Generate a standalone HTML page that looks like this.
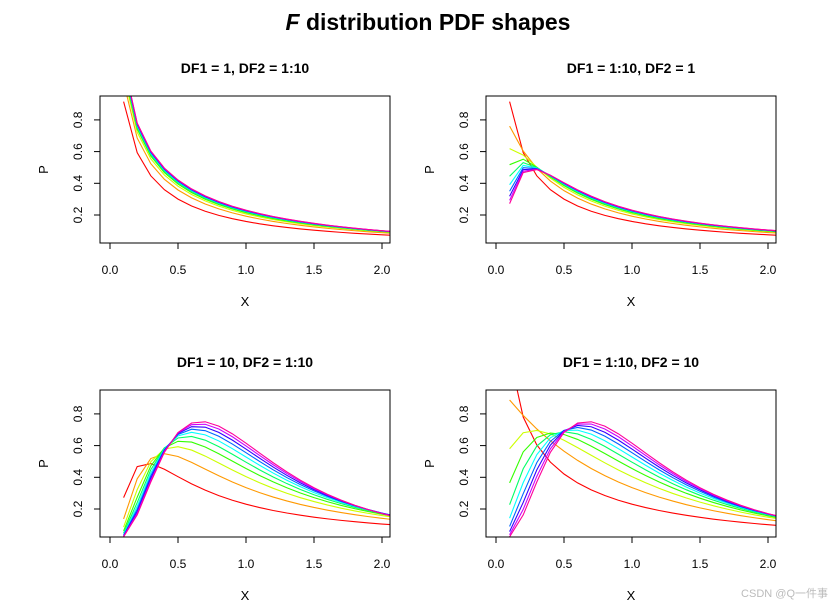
<!DOCTYPE html>
<html><head><meta charset="utf-8"><style>
body{margin:0;background:#fff;}
svg{display:block;font-family:"Liberation Sans",Arial,sans-serif;}
</style></head><body>
<svg id="chart" width="840" height="608" viewBox="0 0 840 608">
<text x="428" y="30" text-anchor="middle" font-size="23" font-weight="bold"><tspan font-style="italic">F</tspan> distribution PDF shapes</text>
</svg>
<script>
// Chart data: distribution parameters per panel and sampling grid
const xGrid = [0.1,0.2,0.3,0.4,0.5,0.6,0.7,0.8,0.9,1.0,1.1,1.2,1.3,1.4,1.5,1.6,1.7,1.8,1.9,2.0,2.1,2.2];
const panelTitles = ["DF1 = 1, DF2 = 1:10","DF1 = 1:10, DF2 = 1","DF1 = 10, DF2 = 1:10","DF1 = 1:10, DF2 = 10"];
const panelDf1 = [[1,1,1,1,1,1,1,1,1,1],[1,2,3,4,5,6,7,8,9,10],[10,10,10,10,10,10,10,10,10,10],[1,2,3,4,5,6,7,8,9,10]];
const panelDf2 = [[1,2,3,4,5,6,7,8,9,10],[1,1,1,1,1,1,1,1,1,1],[1,2,3,4,5,6,7,8,9,10],[10,10,10,10,10,10,10,10,10,10]];
const seriesColors = ["#FF0000","#FF9900","#CCFF00","#33FF00","#00FF66","#00FFFF","#0066FF","#3300FF","#CC00FF","#FF0099"];
const xTicks = [0.0,0.5,1.0,1.5,2.0];
const xTickLabels = ["0.0","0.5","1.0","1.5","2.0"];
const yTicks = [0.2,0.4,0.6,0.8];
const yTickLabels = ["0.2","0.4","0.6","0.8"];

const NS="http://www.w3.org/2000/svg";
const svg=document.getElementById('chart');
function mk(tag,attrs,parent){const e=document.createElementNS(NS,tag);for(const k in attrs)e.setAttribute(k,attrs[k]);(parent||svg).appendChild(e);return e;}
function lgamma(z){const g=7,c=[0.99999999999980993,676.5203681218851,-1259.1392167224028,771.32342877765313,-176.61502916214059,12.507343278686905,-0.13857109526572012,9.9843695780195716e-6,1.5056327351493116e-7];
 if(z<0.5)return Math.log(Math.PI/Math.sin(Math.PI*z))-lgamma(1-z);z-=1;let a=c[0];const t=z+g+0.5;for(let i=1;i<9;i++)a+=c[i]/(z+i);
 return 0.5*Math.log(2*Math.PI)+(z+0.5)*Math.log(t)-t+Math.log(a);}
function df(x,d1,d2){const lb=lgamma(d1/2)+lgamma(d2/2)-lgamma((d1+d2)/2);
 return Math.exp(0.5*(d1*Math.log(d1*x)+d2*Math.log(d2)-(d1+d2)*Math.log(d1*x+d2))-Math.log(x)-lb);}

const offX=[0,386,0,386], offY=[0,0,294,294];
for(let p=0;p<4;p++){
 const ox=offX[p], oy=offY[p];
 const L=100+ox,R=390+ox,T=96+oy,B=243+oy;
 const sx=v=>110+ox+v*136, sy=v=>215+oy-(v-0.2)*158.5;
 const g=mk('g',{});
 
 
 const t=mk('text',{x:(L+R)/2,y:73+oy,'text-anchor':'middle','font-size':14,'font-weight':'bold'},g);
 t.textContent=panelTitles[p];
 
 
 const cp=mk('clipPath',{id:'clip'+p},g);mk('rect',{x:L,y:T,width:R-L,height:B-T},cp);
 const lines=mk('g',{'clip-path':'url(#clip'+p+')'},g);
 for(let s=0;s<10;s++){
  const pts=xGrid.map(x=>sx(x).toFixed(2)+','+sy(df(x,panelDf1[p][s],panelDf2[p][s])).toFixed(2)).join(' ');
  const pl=mk('polyline',{points:pts,fill:'none',stroke:seriesColors[s],'stroke-width':1.1},lines);
  
  
 }
 const box=mk('rect',{x:L,y:T,width:R-L,height:B-T,fill:'none',stroke:'#000','stroke-width':1},g);
 
 
 const xa=mk('g',{},g);
 
 
 mk('line',{x1:sx(xTicks[0]),x2:sx(xTicks[xTicks.length-1]),y1:B,y2:B,stroke:'#000'},xa);
 xTicks.forEach((v,i)=>{mk('line',{x1:sx(v),x2:sx(v),y1:B,y2:B+6,stroke:'#000'},xa);
  const tl=mk('text',{x:sx(v),y:B+31,'text-anchor':'middle','font-size':12},xa);tl.textContent=xTickLabels[i];
  
  });
 const ya=mk('g',{},g);
 
 
 mk('line',{x1:L,x2:L,y1:sy(yTicks[0]),y2:sy(yTicks[yTicks.length-1]),stroke:'#000'},ya);
 yTicks.forEach((v,i)=>{mk('line',{x1:L,x2:L-6,y1:sy(v),y2:sy(v),stroke:'#000'},ya);
  const tl=mk('text',{x:L-18,y:sy(v),'text-anchor':'middle','font-size':12,transform:'rotate(-90 '+(L-18)+' '+sy(v)+')'},ya);tl.textContent=yTickLabels[i];
  
  });
 const xl=mk('text',{x:(L+R)/2,y:B+63,'text-anchor':'middle','font-size':13},g);xl.textContent='X';
 
 
 const yx=L-52,yy=(T+B)/2;
 const yl=mk('text',{x:yx,y:yy,'text-anchor':'middle','font-size':13,transform:'rotate(-90 '+yx+' '+yy+')'},g);yl.textContent='P';
 
 
}
const wm=mk('text',{x:828,y:597,'text-anchor':'end','font-size':11,fill:'#bbb'});
wm.textContent='CSDN @Q一件事';


</script>
</body></html>
